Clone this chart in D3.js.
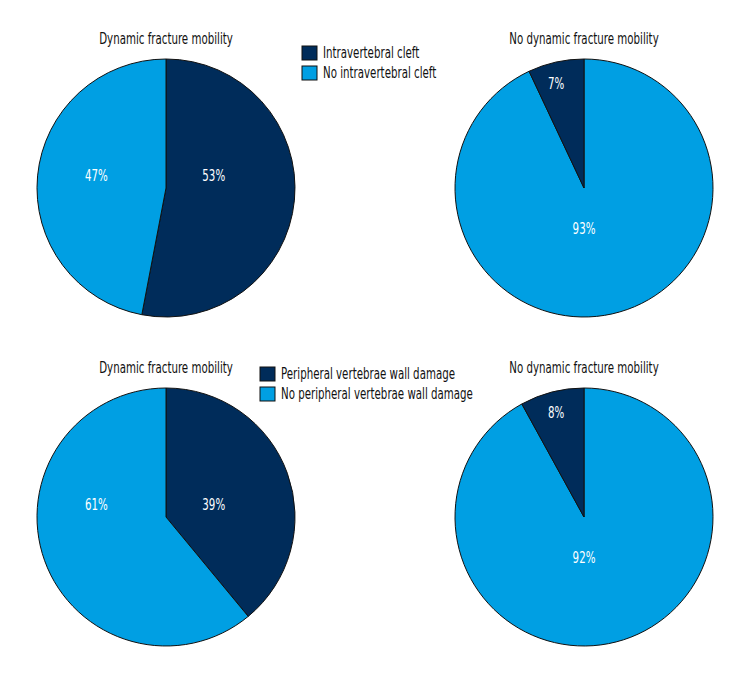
<!DOCTYPE html>
<html><head><meta charset="utf-8">
<script src="https://cdn.jsdelivr.net/npm/d3@7"></script>
<style>body{margin:0;background:#fff}svg text{font-family:"DejaVu Sans Condensed","DejaVu Sans",sans-serif;}</style>
</head><body><div id="chart"></div>
<script>
// ---- data ----
const panelTitles = ["Dynamic fracture mobility", "No dynamic fracture mobility"];
const legendTop = ["Intravertebral cleft", "No intravertebral cleft"];
const legendBottom = ["Peripheral vertebrae wall damage", "No peripheral vertebrae wall damage"];
// values: [with condition, without condition] in percent
const cleftDynamic = [53, 47];
const cleftNoDynamic = [7, 93];
const wallDynamic = [39, 61];
const wallNoDynamic = [8, 92];

const colors = ["#002c5a", "#009fe3"];

const W = 750, H = 675;
const SX = 0.76; // horizontal condensing of text
const svg = d3.select("#chart").append("svg").attr("width", W).attr("height", H);

function ctext(parent, x, y, str, size, fill, anchor) {
  return parent.append("text")
    .attr("transform", `translate(${x},${y}) scale(${SX},1)`)
    .attr("dy", "0.35em")
    .attr("text-anchor", anchor)
    .attr("font-size", size)
    .attr("fill", fill)
    .text(str);
}

const R = 129;
const cx = [166, 584], cy = [188, 517];
// label placement (fraction of radius) for [with, without] slice per panel kind
const labelPos = {
  dyn: [[0.37, -0.093], [-0.54, -0.093]],
  nodyn: [[-0.217, -0.81], [0, 0.318]]
};

const panels = [
  {vals: cleftDynamic, kind: "dyn", col: 0, row: 0},
  {vals: cleftNoDynamic, kind: "nodyn", col: 1, row: 0},
  {vals: wallDynamic, kind: "dyn", col: 0, row: 1},
  {vals: wallNoDynamic, kind: "nodyn", col: 1, row: 1}
];

const arc = d3.arc().innerRadius(0).outerRadius(R);

panels.forEach(p => {
  const g = svg.append("g").attr("transform", `translate(${cx[p.col]},${cy[p.row]})`);
  const data = p.vals.map((v, i) => ({v, i}));
  // dynamic panels: "with" slice clockwise from 12 o'clock; others: "without" first
  const ordered = p.kind === "dyn" ? data : [data[1], data[0]];
  const pie = d3.pie().sort(null).value(d => d.v);
  const arcs = pie(ordered);
  g.selectAll("path").data(arcs).join("path")
    .attr("d", arc)
    .attr("fill", d => colors[d.data.i])
    .attr("stroke", "#111")
    .attr("stroke-width", 1);
  arcs.forEach(d => {
    ctext(g, labelPos[p.kind][d.data.i][0] * R, labelPos[p.kind][d.data.i][1] * R,
      d.data.v + "%", 15, "#fff", "middle");
  });
  ctext(svg, cx[p.col], cy[p.row] - R - 20, panelTitles[p.col], 15, "#111", "middle");
});

function legend(items, x, y) {
  const g = svg.append("g").attr("transform", `translate(${x},${y})`);
  items.forEach((t, i) => {
    g.append("rect").attr("x", 0).attr("y", i * 20).attr("width", 15).attr("height", 14)
      .attr("fill", colors[i]).attr("stroke", "#111").attr("stroke-width", 1);
    ctext(g, 21, i * 20 + 7, t, 15, "#111", "start");
  });
}
legend(legendTop, 302, 46);
legend(legendBottom, 260, 367);
</script></body></html>
